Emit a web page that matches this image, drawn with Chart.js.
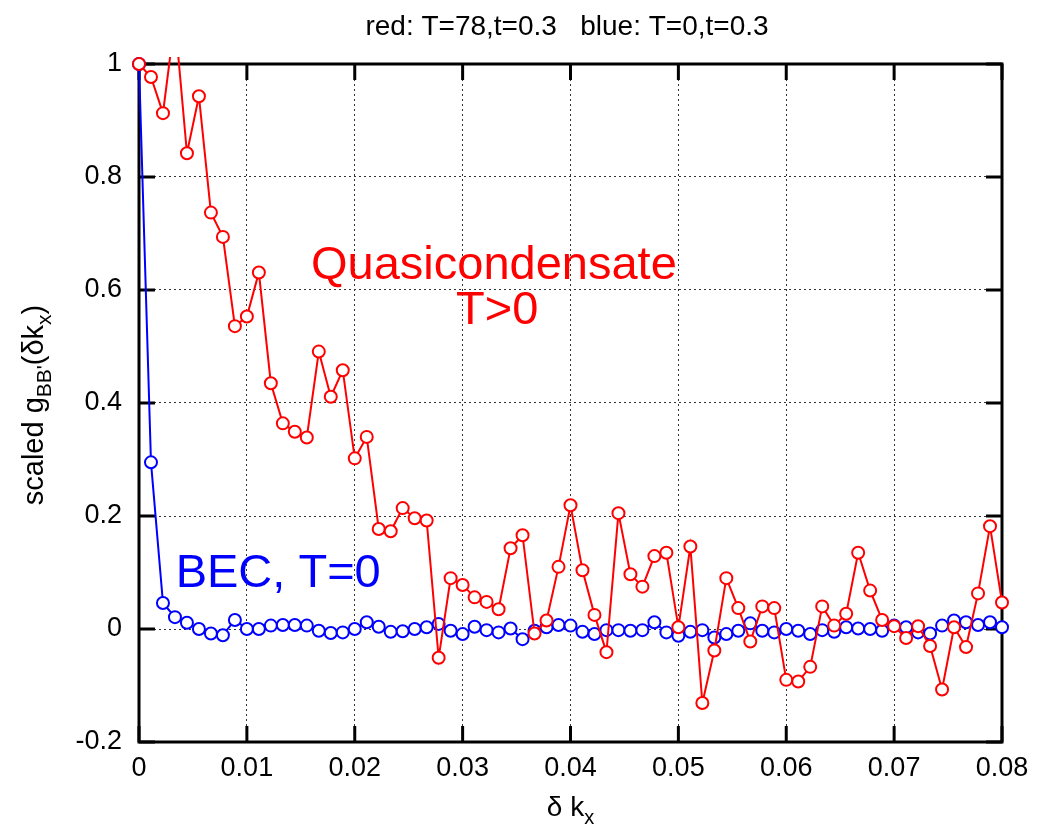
<!DOCTYPE html>
<html>
<head>
<meta charset="utf-8">
<script src="https://cdn.jsdelivr.net/npm/chart.js@4/dist/chart.umd.min.js"></script>
<style>
  html, body { margin: 0; padding: 0; background: #fff; }
  #wrap { width: 1042px; height: 828px; }
</style>
</head>
<body>
<div id="wrap"><canvas id="chart" width="1042" height="828"></canvas></div>
<script>
// 73 samples of delta k_x between 0 and 0.08
const kStep = 0.08 / 72;

// red: T=78, t=0.3 (quasicondensate)
const redValues = [
  1.0, 0.977, 0.913, 1.08, 0.842, 0.943, 0.737, 0.694, 0.536, 0.553,
  0.631, 0.435, 0.364, 0.349, 0.339, 0.491, 0.411, 0.458, 0.302, 0.340,
  0.177, 0.173, 0.214, 0.196, 0.192, -0.051, 0.090, 0.078, 0.056, 0.048,
  0.035, 0.143, 0.166, -0.008, 0.015, 0.110, 0.219, 0.104, 0.025, -0.041,
  0.205, 0.097, 0.075, 0.129, 0.135, 0.003, 0.146, -0.131, -0.038, 0.090,
  0.037, -0.022, 0.040, 0.037, -0.090, -0.093, -0.067, 0.040, 0.006, 0.027,
  0.135, 0.068, 0.016, 0.005, -0.016, 0.005, -0.030, -0.107, 0.003, -0.032,
  0.063, 0.182, 0.047
];

// blue: T=0, t=0.3 (BEC)
const blueValues = [
  1.0, 0.295, 0.046, 0.021, 0.011, 0.0, -0.008, -0.011, 0.016, 0.0,
  0.0, 0.006, 0.007, 0.007, 0.006, -0.003, -0.007, -0.006, 0.0, 0.012,
  0.004, -0.005, -0.004, 0.0, 0.003, 0.009, -0.003, -0.009, 0.004, -0.002,
  -0.006, 0.001, -0.018, -0.003, 0.003, 0.007, 0.006, -0.005, -0.009, -0.002,
  -0.002, -0.003, -0.002, 0.012, -0.006, -0.012, -0.005, -0.002, -0.015, -0.009,
  -0.003, 0.010, -0.003, -0.006, 0.0, -0.003, -0.009, -0.002, -0.005, 0.003,
  0.001, 0.0, -0.003, 0.006, 0.003, -0.006, -0.008, 0.006, 0.015, 0.012,
  0.007, 0.012, 0.003
];

const xTickValues = [0, 0.01, 0.02, 0.03, 0.04, 0.05, 0.06, 0.07, 0.08];
const xTickLabels = ['0', '0.01', '0.02', '0.03', '0.04', '0.05', '0.06', '0.07', '0.08'];
const yTickValues = [-0.2, 0, 0.2, 0.4, 0.6, 0.8, 1];
const yTickLabels = ['-0.2', '0', '0.2', '0.4', '0.6', '0.8', '1'];

const FONT = '"Liberation Sans", Arial, Helvetica, sans-serif';

const toPoints = vals => vals.map((v, i) => ({ x: i * kStep, y: v }));

// text with subscripts, centered on x
function drawRich(ctx, parts, x, y, size) {
  const big = `${size}px ${FONT}`;
  const small = `${Math.round(size * 0.72)}px ${FONT}`;
  let w = 0;
  parts.forEach(p => { ctx.font = p.sub ? small : big; w += ctx.measureText(p.t).width; });
  let cx = x - w / 2;
  ctx.textAlign = 'left';
  ctx.textBaseline = 'alphabetic';
  parts.forEach(p => {
    ctx.font = p.sub ? small : big;
    ctx.fillText(p.t, cx, p.sub ? y + size * 0.28 : y);
    cx += ctx.measureText(p.t).width;
  });
}

const framePlugin = {
  id: 'frame',
  beforeDatasetsDraw(chart) {
    const { ctx, chartArea: a, scales: { x, y } } = chart;
    ctx.save();
    ctx.strokeStyle = '#000';
    ctx.lineWidth = 3;
    ctx.strokeRect(a.left, a.top, a.right - a.left, a.bottom - a.top);
    ctx.beginPath();
    xTickValues.forEach(v => {
      const px = x.getPixelForValue(v);
      ctx.moveTo(px, a.bottom); ctx.lineTo(px, a.bottom - 16);
      ctx.moveTo(px, a.top); ctx.lineTo(px, a.top + 16);
    });
    yTickValues.forEach(v => {
      const py = y.getPixelForValue(v);
      ctx.moveTo(a.left, py); ctx.lineTo(a.left + 16, py);
      ctx.moveTo(a.right, py); ctx.lineTo(a.right - 16, py);
    });
    ctx.stroke();
    ctx.restore();
  },
  afterDraw(chart) {
    const { ctx, chartArea: a, scales: { x, y } } = chart;
    ctx.save();
    ctx.fillStyle = '#000';
    ctx.textAlign = 'center';
    ctx.textBaseline = 'alphabetic';
    ctx.font = `28px ${FONT}`;
    ctx.fillText('red: T=78,t=0.3   blue: T=0,t=0.3', 567, 35);

    // axis titles
    drawRich(ctx, [{ t: 'δ k' }, { t: 'x', sub: true }], (a.left + a.right) / 2, 816, 28);
    ctx.translate(43, 405);
    ctx.rotate(-Math.PI / 2);
    drawRich(ctx, [{ t: 'scaled g' }, { t: "BB'", sub: true }, { t: '(δk' }, { t: 'x', sub: true }, { t: ')' }], 0, 0, 29);
    ctx.restore();

    // curve labels
    ctx.save();
    ctx.font = `47px ${FONT}`;
    ctx.textAlign = 'center';
    ctx.fillStyle = '#ff0000';
    ctx.fillText('Quasicondensate', x.getPixelForValue(0.0329), y.getPixelForValue(0.619));
    ctx.fillText('T>0', x.getPixelForValue(0.0332), y.getPixelForValue(0.54));
    ctx.textAlign = 'left';
    ctx.fillStyle = '#0000ff';
    ctx.fillText('BEC, T=0', x.getPixelForValue(0.0034), y.getPixelForValue(0.074));
    ctx.restore();
  }
};

new Chart(document.getElementById('chart'), {
  type: 'line',
  data: {
    datasets: [
      {
        label: 'red: T=78,t=0.3',
        data: toPoints(redValues),
        borderColor: '#ff0000',
        borderWidth: 2,
        pointRadius: 6,
        pointBorderWidth: 2,
        pointBorderColor: '#ff0000',
        pointBackgroundColor: '#ffffff',
        tension: 0,
        order: 0,
        clip: { left: 8, top: 7, right: 8, bottom: 8 },
      },
      {
        label: 'blue: T=0,t=0.3',
        data: toPoints(blueValues),
        borderColor: '#0000ff',
        borderWidth: 2,
        pointRadius: 6,
        pointBorderWidth: 2,
        pointBorderColor: '#0000ff',
        pointBackgroundColor: '#ffffff',
        tension: 0,
        order: 1,
        clip: { left: 8, top: 7, right: 8, bottom: 8 },
      },
    ],
  },
  options: {
    responsive: false,
    animation: false,
    devicePixelRatio: 1,
    layout: { padding: { top: 64, right: 40, left: 0, bottom: 0 } },
    plugins: { legend: { display: false }, tooltip: { enabled: false }, title: { display: false } },
    scales: {
      x: {
        type: 'linear',
        min: 0,
        max: 0.08,
        afterBuildTicks: s => { s.ticks = xTickValues.map(v => ({ value: v })); },
        afterFit: s => { s.height = 86; },
        ticks: {
          callback: (v, i) => xTickLabels[i],
          font: { family: FONT, size: 27 },
          color: '#000',
          padding: 10,
          maxRotation: 0,
          autoSkip: false,
        },
        grid: { color: '#333', lineWidth: 1, drawTicks: false },
        border: { display: false, dash: [2, 3] },
      },
      y: {
        type: 'linear',
        min: -0.2,
        max: 1,
        afterBuildTicks: s => { s.ticks = yTickValues.map(v => ({ value: v })); },
        afterFit: s => { s.width = 139; },
        ticks: {
          callback: (v, i) => yTickLabels[i],
          font: { family: FONT, size: 27 },
          color: '#000',
          padding: 17,
          autoSkip: false,
        },
        grid: { color: '#333', lineWidth: 1, drawTicks: false },
        border: { display: false, dash: [2, 3] },
      },
    },
  },
  plugins: [framePlugin],
});
</script>
</body>
</html>
